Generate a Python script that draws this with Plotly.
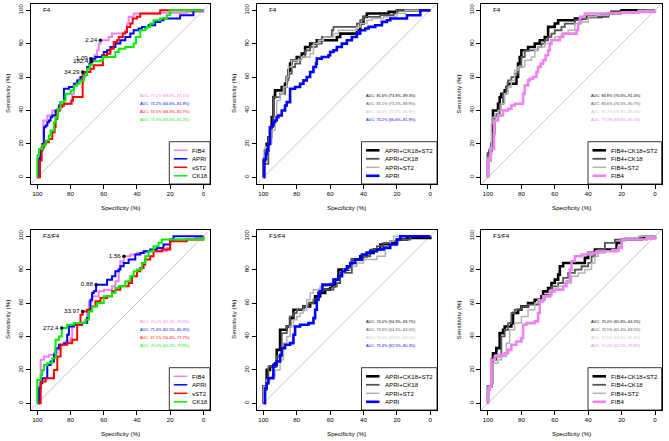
import plotly.graph_objects as go

W, H = 669, 441
FONT = "Liberation Sans"

# ---------------- data (specificity %, sensitivity %) ----------------
# F4 single markers
fib4_f4_spec = [100, 100, 98.4, 96.4, 94, 91, 88, 86, 84, 79, 78, 76, 75, 73, 71, 70, 68.5, 67, 65.5, 64, 63, 62, 58, 57, 55, 48, 47, 46, 45, 43, 42, 26, 10, 0]
fib4_f4_sens = [0, 10, 17, 34, 37, 40, 41, 43, 44, 50, 55, 58, 59, 60, 63, 66, 68, 70, 73, 76, 80, 82, 82, 84, 86, 86, 88, 92, 96, 96, 98, 98.5, 99, 100]
apri_f4_spec = [100, 99.4, 98.4, 98, 97, 96, 95, 94, 93, 92, 91, 89, 87, 86, 84, 82, 81, 79, 78, 76, 74, 72, 70, 68.5, 68, 65, 61, 60, 58, 56, 53, 50, 47, 44, 42, 39, 37, 33, 29, 26, 24, 16, 14, 6, 0]
apri_f4_sens = [0, 11, 14, 16, 20, 30, 31, 33, 34, 36, 37, 40, 43, 45, 53, 53, 54, 54, 56, 58, 60, 63, 66, 68, 71, 72, 73, 75, 76, 78, 80, 82, 84, 86, 88, 89, 90, 91, 93, 94, 95, 95, 97, 100, 100]
sst2_f4_spec = [100, 98.4, 97.4, 96, 95, 93, 91, 89.6, 89, 88, 86.5, 85, 84, 80, 79.5, 78.5, 72.7, 69, 68, 66, 61, 60.5, 58, 56, 54, 52, 51, 48.5, 47, 46, 44, 42.6, 40, 38, 34, 26, 0]
sst2_f4_sens = [0, 10, 18, 20, 21, 23, 27, 30, 35, 40, 42, 43, 44, 44, 46, 48, 63, 63, 65, 67, 67, 73, 74, 77, 81, 82, 84, 86, 87, 90, 92, 95, 96, 98, 98, 100, 100]
ck18_f4_spec = [100, 100, 99, 97, 95, 93, 92, 90, 89, 87.6, 86, 84, 83, 80, 78, 76, 74.5, 72, 70, 68.5, 67.3, 62, 60.5, 55, 53, 51, 47, 43, 42, 40.6, 38, 35, 34, 32, 30, 26, 22, 20, 0]
ck18_f4_sens = [0, 13, 17, 19, 22, 25, 28, 33, 36, 41, 45, 46, 50, 52, 55, 56, 58, 61, 65, 67, 69.5, 70, 72, 72, 75, 77, 78, 78, 80, 84, 88, 89, 90, 92, 94, 95, 97, 100, 100]

# F4 APRI combinations
apri_ck18_st2_f4_spec = [100, 100, 99, 98, 97, 96, 95, 94, 93, 91, 89, 87, 86, 85, 84, 83, 80, 77, 75, 72, 70, 68, 65, 58, 56, 54, 46, 44, 42, 40, 38, 30, 25, 20, 0]
apri_ck18_st2_f4_sens = [0, 10, 16, 20, 24, 30, 36, 48, 52, 52, 54, 56, 60, 64, 68, 70, 72, 74, 78, 80, 80, 82, 82, 82, 84, 86, 86, 88, 92, 96, 98, 98, 99, 100, 100]
apri_ck18_f4_spec = [100, 100, 97, 97, 95, 94, 92, 90, 87, 86, 85, 83, 81, 78, 75, 72, 68, 65, 60, 59, 58, 52, 44, 42, 40, 30, 22, 20, 0]
apri_ck18_f4_sens = [0, 8, 8, 24, 30, 48, 48, 50, 54, 58, 62, 66, 68, 72, 76, 78, 80, 84, 84, 88, 90, 90, 92, 94, 96, 97, 98, 100, 100]
apri_st2_f4_spec = [100, 100, 99, 97, 95, 93, 92, 90, 88, 86, 85, 83, 80, 77, 74, 72, 70, 67, 64, 60, 58, 55, 48, 44, 42, 38, 35, 28, 20, 15, 0]
apri_st2_f4_sens = [0, 12, 18, 20, 28, 36, 46, 50, 54, 60, 66, 70, 70, 72, 72, 74, 80, 82, 84, 84, 86, 88, 88, 90, 92, 94, 95, 96, 98, 100, 100]

# F4 FIB4 combinations
fib4_ck18_st2_f4_spec = [100, 100, 99, 98, 97, 95, 94, 93, 92, 90, 89, 88, 84, 83, 82, 81, 80, 78, 76, 72, 69, 66, 64, 61, 60, 58, 50, 48, 42, 35, 32, 28, 26, 20, 0]
fib4_ck18_st2_f4_sens = [0, 14, 16, 20, 40, 40, 44, 48, 50, 52, 54, 56, 56, 60, 68, 72, 76, 76, 78, 80, 82, 84, 90, 90, 92, 94, 94, 95, 96, 96, 97, 98, 99, 100, 100]
fib4_ck18_f4_spec = [100, 100, 98, 97, 96, 95, 93, 91, 89, 88, 86, 84, 82, 80, 78, 74, 70, 68, 66, 64, 62, 60, 56, 54, 50, 48, 44, 40, 28, 20, 5, 0]
fib4_ck18_f4_sens = [0, 14, 20, 26, 36, 38, 44, 50, 54, 58, 60, 62, 66, 72, 76, 76, 78, 80, 82, 84, 86, 88, 90, 92, 92, 94, 95, 96, 98, 99, 100, 100]
fib4_st2_f4_spec = [100, 100, 99, 98, 97, 94, 92, 90, 88, 86, 84, 82, 80, 78, 74, 72, 70, 66, 62, 60, 56, 52, 48, 44, 40, 35, 28, 20, 10, 0]
fib4_st2_f4_sens = [0, 12, 18, 32, 36, 40, 44, 50, 54, 58, 64, 66, 66, 70, 72, 76, 78, 80, 82, 84, 86, 88, 92, 93, 96, 97, 98, 99, 100, 100]

# F3/F4 single markers
fib4_f34_spec = [100, 100, 99, 98, 96, 93, 90, 88, 86, 83, 80, 79, 77, 72, 70, 69, 67, 63, 60, 55, 53, 51, 50, 48, 44, 40, 35, 30, 26, 22, 20, 10, 5, 0]
fib4_f34_sens = [0, 8, 10, 26, 28, 29, 30, 32, 35, 37, 39, 47, 48, 49, 54, 61, 64, 67, 68, 70, 73, 80, 85, 88, 89, 90, 91, 91, 91, 93, 98, 98, 99, 100]
apri_f34_spec = [100, 99, 98, 97, 94, 94, 92, 90, 89, 87, 84, 82, 81, 78, 73, 71, 70, 69, 68, 67, 66, 64.6, 60, 58, 55, 53, 51, 50, 48, 45, 43, 41, 38, 36, 32, 28, 24, 20, 18, 0]
apri_f34_sens = [0, 9, 12, 15, 15, 23, 25, 29, 33, 35, 36, 41, 46, 47, 48, 48, 51, 56, 62, 66, 67, 71, 71, 74, 76, 79, 80, 82, 84, 86, 86, 89, 90, 91, 92, 93, 95, 98, 100, 100]
sst2_f34_spec = [100, 98, 98, 96, 95, 91, 90, 88, 86, 84, 82, 79, 77, 76, 74, 72.7, 70, 67, 65, 62, 58, 55, 53, 50, 47, 45, 43, 40, 38, 36, 35, 32, 30, 25, 20, 10, 0]
sst2_f34_sens = [0, 0, 13, 13, 15, 15, 20, 28, 35, 35, 36, 38, 38, 47, 53, 55, 56, 58, 61, 63, 64, 67, 68, 70, 70, 72, 76, 79, 81, 83, 86, 88, 91, 92, 97, 98, 100]
ck18_f34_spec = [100, 100, 98, 97, 96, 94, 91, 89, 87, 85.3, 82, 78, 74, 71, 69, 67, 64, 60, 55, 53, 51, 47, 44, 42, 40, 37, 35, 33, 30, 27, 25, 15, 0]
ck18_f34_sens = [0, 14, 17, 20, 23, 24, 27, 38, 40, 45, 47, 48, 48, 50, 55, 58, 60, 64, 66, 69, 70, 73, 76, 79, 80, 84, 88, 91, 94, 96, 98, 98, 100]

# F3/F4 APRI combinations
apri_ck18_st2_f34_spec = [100, 100, 98, 98, 96, 93, 92, 90, 90, 88, 86, 84, 82, 78, 76, 74, 72, 70, 69, 66, 63, 60, 57, 55, 51, 49, 47, 44, 42, 38, 34, 30, 24, 20, 14, 8, 0]
apri_ck18_st2_f34_sens = [0, 10, 10, 20, 22, 24, 32, 34, 44, 44, 46, 51, 56, 56, 58, 58, 60, 60, 64, 66, 68, 70, 74, 80, 80, 82, 86, 86, 88, 90, 92, 95, 96, 98, 99, 99, 100]
apri_ck18_f34_spec = [100, 100, 98, 97, 93, 92, 89, 87, 86, 84, 82, 80, 76, 73, 70, 67, 62, 58, 56, 54, 50, 47, 40, 36, 32, 28, 24, 20, 12, 0]
apri_ck18_f34_sens = [0, 8, 12, 22, 22, 28, 42, 42, 46, 52, 54, 56, 58, 60, 62, 68, 68, 70, 72, 78, 78, 86, 88, 92, 94, 96, 97, 98, 100, 100]
apri_st2_f34_spec = [100, 100, 98, 96, 93, 90, 88, 86, 84, 82, 80, 78, 76, 74, 72, 70, 66, 60, 58, 55, 52, 48, 44, 40, 36, 32, 28, 27, 24, 22, 0]
apri_st2_f34_sens = [0, 10, 14, 16, 20, 26, 36, 40, 46, 50, 52, 54, 56, 62, 66, 68, 70, 72, 74, 76, 80, 82, 84, 86, 86, 88, 88, 94, 97, 100, 100]

# F3/F4 FIB4 combinations
fib4_ck18_st2_f34_spec = [100, 100, 98, 98, 97, 95, 93, 93, 91, 90, 87, 86, 85, 82, 80, 76, 72, 68, 67, 64, 62, 60, 58, 57, 55, 44, 42, 40, 36, 26, 23, 20, 10, 8, 0]
fib4_ck18_st2_f34_sens = [0, 10, 12, 26, 30, 33, 34, 42, 44, 46, 46, 48, 54, 56, 58, 60, 62, 64, 67, 69, 72, 74, 77, 82, 84, 84, 87, 90, 92, 92, 96, 98, 98, 99, 100]
fib4_ck18_f34_spec = [100, 100, 98, 97, 95, 92, 90, 88, 86, 84, 80, 76, 70, 66, 62, 58, 55, 52, 48, 44, 40, 38, 36, 34, 30, 24, 20, 12, 8, 0]
fib4_ck18_f34_sens = [0, 10, 12, 26, 28, 40, 44, 48, 54, 56, 58, 59, 62, 65, 70, 72, 75, 78, 80, 82, 84, 88, 90, 92, 96, 98, 98, 99, 100, 100]
fib4_st2_f34_spec = [100, 100, 98, 97, 94, 92, 89, 87, 84, 80, 76, 72, 70, 66, 62, 58, 54, 50, 46, 42, 38, 36, 34, 30, 26, 22, 20, 18, 10, 0]
fib4_st2_f34_sens = [0, 10, 12, 24, 26, 28, 36, 44, 48, 52, 56, 60, 62, 64, 68, 70, 72, 76, 78, 80, 84, 88, 90, 91, 92, 94, 97, 99, 100, 100]

# thresholds (specificity, sensitivity, label)
thr_f4_spec = [62.0, 67.7, 67.3, 72.7]
thr_f4_sens = [82.0, 71.0, 69.5, 63.0]
thr_f4_text = ["2.24", "1.09", "182.4", "34.29"]
thr_f34_spec = [47.8, 64.6, 72.7, 85.3]
thr_f34_sens = [88.0, 71.0, 55.0, 45.0]
thr_f34_text = ["1.56", "0.88", "33.97", "272.4"]

# AUC labels
auc_p1 = ["AUC: 77.0% (69.8%–84.1%)", "AUC: 74.2% (66.6%–81.9%)", "AUC: 74.5% (66.3%–82.7%)", "AUC: 72.3% (63.6%–81.2%)"]
auc_p2 = ["AUC: 81.6% (73.9%–89.3%)", "AUC: 81.1% (73.2%–88.9%)", "AUC: 81.0% (73.2%–88.8%)", "AUC: 74.2% (66.6%–81.9%)"]
auc_p3 = ["AUC: 83.8% (76.6%–91.0%)", "AUC: 83.6% (76.5%–90.7%)", "AUC: 81.7% (74.3%–89.2%)", "AUC: 77.0% (69.8%–84.1%)"]
auc_p4 = ["AUC: 71.0% (62.2%–79.8%)", "AUC: 71.4% (62.5%–80.3%)", "AUC: 67.1% (56.4%–77.7%)", "AUC: 70.0% (60.2%–79.8%)"]
auc_p5 = ["AUC: 74.0% (64.3%–83.7%)", "AUC: 73.6% (64.3%–83.0%)", "AUC: 73.0% (63.8%–82.3%)", "AUC: 71.4% (62.5%–80.3%)"]
auc_p6 = ["AUC: 75.0% (65.8%–84.2%)", "AUC: 74.5% (65.4%–83.5%)", "AUC: 72.6% (63.4%–81.8%)", "AUC: 71.0% (62.2%–79.8%)"]

names_single = ["FIB4", "APRI", "sST2", "CK18"]
names_apri = ["APRI+CK18+ST2", "APRI+CK18", "APRI+ST2", "APRI"]
names_fib4 = ["FIB4+CK18+ST2", "FIB4+CK18", "FIB4+ST2", "FIB4"]

# ---------------- styles ----------------
VIOLET = "#EE82EE"
BLUE = "#0000FF"
RED = "#FF0000"
GREEN = "#00EE00"
BLACK = "#000000"
DGRAY = "#555555"
LGRAY = "#B3B3B3"
AUCLGRAY = "#C8C8C8"

single_cols = [VIOLET, BLUE, RED, GREEN]
single_w = [2.0, 2.0, 2.0, 2.0]
combo_w = [2.6, 1.8, 1.5, 2.6]

panels = [
    dict(box=(30.7, 3.5, 210.0, 184.0), label="F4", names=names_single,
         curves=[(fib4_f4_spec, fib4_f4_sens), (apri_f4_spec, apri_f4_sens),
                 (sst2_f4_spec, sst2_f4_sens), (ck18_f4_spec, ck18_f4_sens)],
         cols=single_cols, widths=single_w, auc=auc_p1, auccols=single_cols,
         thr=(thr_f4_spec, thr_f4_sens, thr_f4_text), leg_left=169.3, legw=1.5),
    dict(box=(256.7, 3.5, 437.0, 184.0), label="F4", names=names_apri,
         curves=[(apri_ck18_st2_f4_spec, apri_ck18_st2_f4_sens), (apri_ck18_f4_spec, apri_ck18_f4_sens),
                 (apri_st2_f4_spec, apri_st2_f4_sens), (apri_f4_spec, apri_f4_sens)],
         cols=[BLACK, DGRAY, LGRAY, BLUE], widths=combo_w, auc=auc_p2,
         auccols=[BLACK, DGRAY, AUCLGRAY, BLUE], thr=None, leg_left=361.5, legw=None),
    dict(box=(481.3, 3.5, 661.7, 184.0), label="F4", names=names_fib4,
         curves=[(fib4_ck18_st2_f4_spec, fib4_ck18_st2_f4_sens), (fib4_ck18_f4_spec, fib4_ck18_f4_sens),
                 (fib4_st2_f4_spec, fib4_st2_f4_sens), (fib4_f4_spec, fib4_f4_sens)],
         cols=[BLACK, DGRAY, LGRAY, VIOLET], widths=combo_w, auc=auc_p3,
         auccols=[BLACK, DGRAY, AUCLGRAY, VIOLET], thr=None, leg_left=588.0, legw=None),
    dict(box=(30.7, 229.5, 210.0, 410.0), label="F3/F4", names=names_single,
         curves=[(fib4_f34_spec, fib4_f34_sens), (apri_f34_spec, apri_f34_sens),
                 (sst2_f34_spec, sst2_f34_sens), (ck18_f34_spec, ck18_f34_sens)],
         cols=single_cols, widths=single_w, auc=auc_p4, auccols=single_cols,
         thr=(thr_f34_spec, thr_f34_sens, thr_f34_text), leg_left=169.3, legw=1.5),
    dict(box=(256.7, 229.5, 437.0, 410.0), label="F3/F4", names=names_apri,
         curves=[(apri_ck18_st2_f34_spec, apri_ck18_st2_f34_sens), (apri_ck18_f34_spec, apri_ck18_f34_sens),
                 (apri_st2_f34_spec, apri_st2_f34_sens), (apri_f34_spec, apri_f34_sens)],
         cols=[BLACK, DGRAY, LGRAY, BLUE], widths=combo_w, auc=auc_p5,
         auccols=[BLACK, DGRAY, AUCLGRAY, BLUE], thr=None, leg_left=361.5, legw=None),
    dict(box=(481.3, 229.5, 661.7, 410.0), label="F3/F4", names=names_fib4,
         curves=[(fib4_ck18_st2_f34_spec, fib4_ck18_st2_f34_sens), (fib4_ck18_f34_spec, fib4_ck18_f34_sens),
                 (fib4_st2_f34_spec, fib4_st2_f34_sens), (fib4_f34_spec, fib4_f34_sens)],
         cols=[BLACK, DGRAY, LGRAY, VIOLET], widths=combo_w, auc=auc_p6,
         auccols=[BLACK, DGRAY, AUCLGRAY, VIOLET], thr=None, leg_left=588.0, legw=None),
]

def px(x):
    return x / W

def py(y):
    return 1 - y / H

fig = go.Figure()
layout = dict(template="none", width=W, height=H, margin=dict(l=0, r=0, t=0, b=0, pad=0),
              autosize=False,
              paper_bgcolor="white", plot_bgcolor="white", showlegend=False,
              font=dict(family=FONT, size=6.2, color="black"))
annotations = []
shapes = []
auc_y = [49.0, 44.2, 39.4, 34.6]
ticks = [0, 20, 40, 60, 80, 100]

for i, p in enumerate(panels, start=1):
    xs = "x" if i == 1 else f"x{i}"
    ys = "y" if i == 1 else f"y{i}"
    x0, y0, x1, y1 = p["box"]
    layout["xaxis" if i == 1 else f"xaxis{i}"] = dict(
        domain=[px(x0), px(x1)], range=[104, -4], anchor=ys, automargin=False,
        tickvals=ticks, ticktext=[str(t) for t in ticks], ticks="outside", ticklen=4,
        tickwidth=0.8, tickcolor="black", showline=True, mirror=True, linecolor="black",
        linewidth=0.8, showgrid=False, zeroline=False, tickfont=dict(size=6.2, family=FONT))
    layout["yaxis" if i == 1 else f"yaxis{i}"] = dict(
        domain=[py(y1), py(y0)], range=[-4, 104], anchor=xs, automargin=False,
        tickvals=ticks, ticktext=[str(t) for t in ticks], ticks="outside", ticklen=4,
        tickwidth=0.8, tickcolor="black", showline=True, mirror=True, linecolor="black",
        linewidth=0.8, showgrid=False, zeroline=False, tickangle=-90,
        tickfont=dict(size=6.2, family=FONT))

    # diagonal reference
    fig.add_trace(go.Scatter(x=[110, -10], y=[-10, 110], mode="lines", xaxis=xs, yaxis=ys,
                             line=dict(color="#A8A8A8", width=0.7), hoverinfo="skip"))
    # ROC curves
    for (sx, sy), col, w, nm in zip(p["curves"], p["cols"], p["widths"], p["names"]):
        fig.add_trace(go.Scatter(x=sx, y=sy, mode="lines", name=nm, xaxis=xs, yaxis=ys,
                                 line=dict(color=col, width=w, shape="hv")))
    # thresholds
    if p["thr"] is not None:
        tx, ty, tt = p["thr"]
        fig.add_trace(go.Scatter(x=tx, y=ty, text=tt, mode="markers+text", xaxis=xs, yaxis=ys,
                                 marker=dict(color="black", size=3.5),
                                 textposition="middle left",
                                 textfont=dict(size=6.2, family=FONT, color="black")))
    # AUC texts
    for txt, col, yy in zip(p["auc"], p["auccols"], auc_y):
        annotations.append(dict(x=39.5, y=yy, xref=xs, yref=ys, text=txt, showarrow=False,
                                xanchor="left", yanchor="middle",
                                font=dict(size=3.9, color=col, family=FONT)))
    # panel label
    annotations.append(dict(x=98, y=100.5, xref=xs, yref=ys, text=p["label"], showarrow=False,
                            xanchor="left", yanchor="middle", font=dict(size=6.2, family=FONT)))
    # axis titles
    annotations.append(dict(x=px((x0 + x1) / 2), y=py(y1 + 23), xref="paper", yref="paper",
                            text="Specificity (%)", showarrow=False, xanchor="center",
                            yanchor="middle", font=dict(size=6.2, family=FONT)))
    annotations.append(dict(x=px(x0 - 22.5), y=py((y0 + y1) / 2), xref="paper", yref="paper",
                            text="Sensitivity (%)", showarrow=False, textangle=-90,
                            xanchor="center", yanchor="middle", font=dict(size=6.2, family=FONT)))
    # legend box
    L = p["leg_left"]
    top = y1 - 42.3
    shapes.append(dict(type="rect", xref="paper", yref="paper", x0=px(L), x1=px(x1),
                       y0=py(y1), y1=py(top), line=dict(color="black", width=0.8),
                       fillcolor="white", layer="above"))
    for k, (nm, col, w) in enumerate(zip(p["names"], p["cols"], p["widths"])):
        yy = top + 8.6 + 8.5 * k
        lw = p["legw"] if p["legw"] else w
        shapes.append(dict(type="line", xref="paper", yref="paper", x0=px(L + 4.5), x1=px(L + 18),
                           y0=py(yy), y1=py(yy), line=dict(color=col, width=lw), layer="above"))
        annotations.append(dict(x=px(L + 21), y=py(yy), xref="paper", yref="paper", text=nm,
                                showarrow=False, xanchor="left", yanchor="middle",
                                font=dict(size=6.1, family=FONT, color="black")))

layout["annotations"] = annotations
layout["shapes"] = shapes
fig.update_layout(**layout)
fig.write_html("out.html", config={"displayModeBar": False},
               post_script="document.body.style.margin='0';document.body.style.padding='0';"
                           "document.documentElement.style.overflow='hidden';")
